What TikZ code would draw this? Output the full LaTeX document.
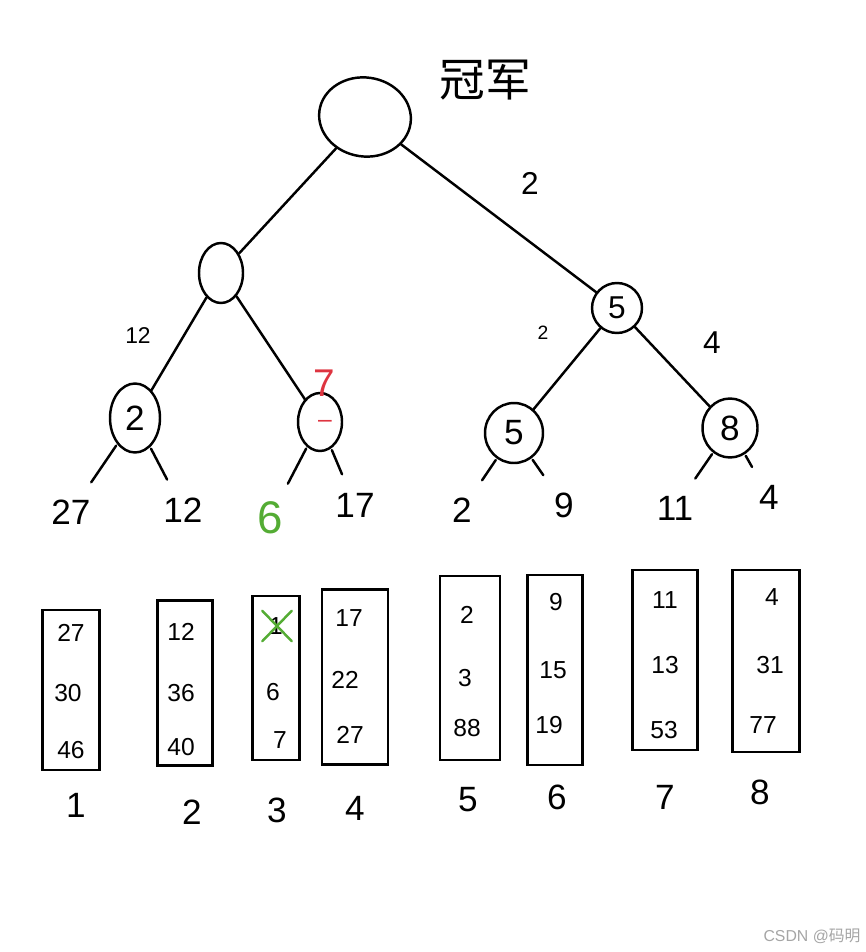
\documentclass[tikz,border=0pt]{standalone}
\usepackage{fontspec}
\setmainfont{Liberation Sans}
\newfontfamily\cjk{Noto Sans CJK SC}
\usetikzlibrary{shapes.geometric,shapes.misc}
\definecolor{markred}{RGB}{222,52,64}
\definecolor{markgreen}{RGB}{84,172,52}
\definecolor{wmgray}{RGB}{165,165,165}
\begin{document}
\begin{tikzpicture}[x=0.02cm, y=-0.02cm, line width=1.4pt, line cap=round]
  \tikzset{knot/.style={draw, ellipse, inner sep=0pt, font=\fontsize{20}{24}\selectfont},
           leaf/.style={font=\fontsize{20}{24}\selectfont},
           stub/.style={shorten <=1pt, shorten >=0.25cm},
           buf/.style={draw, rectangle, inner sep=0pt},
           val/.style={font=\fontsize{14}{16}\selectfont},
           idx/.style={font=\fontsize{20}{24}\selectfont},
           wt/.style={inner sep=0pt}}
  \useasboundingbox (0,0) rectangle (865,952);
  % tree
  \node[font=\cjk\fontsize{26}{30}\selectfont] (title) at (485,80) {冠军};
  \node[knot, minimum width=1.84cm, minimum height=1.58cm, rotate=-8] (root) at (365,117) {};
  \node[knot, minimum width=0.88cm, minimum height=1.2cm] (m1) at (221,273) {};
  \node[knot, minimum width=1.0cm, minimum height=1.0cm, font=\fontsize{18}{22}\selectfont] (m2) at (617,308) {5};
  \node[knot, minimum width=1.0cm, minimum height=1.38cm] (k1) at (135,418) {2};
  \node[knot, minimum width=0.88cm, minimum height=1.16cm] (k2) at (320,422) {};
  \node[knot, minimum width=1.16cm, minimum height=1.2cm] (k3) at (514,433) {5};
  \node[knot, minimum width=1.1cm, minimum height=1.18cm] (k4) at (730,428) {8};
  \node[text=markred, font=\fontsize{22}{26}\selectfont] (mark7) at (324,383) {7};
  \node[text=markred, font=\fontsize{14}{16}\selectfont] (markdash) at (325,424) {–};
  \draw (root) -- (m1);
  \draw (root) -- (m2);
  \draw (m1) -- (k1);
  \draw (m1) -- (k2);
  \draw (m2) -- (k3);
  \draw (m2) -- (k4);
  \node[wt, font=\fontsize{18}{22}\selectfont] (w1) at (530,183) {2};
  \node[wt, font=\fontsize{13}{16}\selectfont] (w2) at (138,336) {12};
  \node[wt, font=\fontsize{11}{14}\selectfont] (w3) at (543,333) {2};
  \node[wt, font=\fontsize{18}{22}\selectfont] (w4) at (712,343) {4};
  % leaves
  \node[leaf] (v1) at (71,512) {27};
  \node[leaf] (v2) at (183,510) {12};
  \node[leaf, text=markgreen, font=\fontsize{26}{30}\selectfont] (v3) at (270,518) {6};
  \node[leaf] (v4) at (355,505) {17};
  \node[leaf] (v5) at (462,510) {2};
  \node[leaf] (v6) at (564,505) {9};
  \node[leaf] (v7) at (675,508) {11};
  \node[leaf] (v8) at (769,497) {4};
  \draw[stub] (k1) -- (v1);
  \draw[stub] (k1) -- (v2);
  \draw[stub] (k2) -- (v3);
  \draw[stub] (k2) -- (v4);
  \draw[stub] (k3) -- (v5);
  \draw[stub] (k3) -- (v6);
  \draw[stub] (k4) -- (v7);
  \draw[stub] (k4) -- (v8);
  % runs
  \node[buf, minimum width=1.14cm, minimum height=3.2cm] (b1) at (71,690) {};
  \node[buf, minimum width=1.1cm, minimum height=3.3cm] (b2) at (185,683) {};
  \node[buf, minimum width=0.94cm, minimum height=3.28cm] (b3) at (276,678) {};
  \node[buf, minimum width=1.32cm, minimum height=3.5cm] (b4) at (355,677) {};
  \node[buf, minimum width=1.2cm, minimum height=3.68cm] (b5) at (470,668) {};
  \node[buf, minimum width=1.1cm, minimum height=3.8cm] (b6) at (555,670) {};
  \node[buf, minimum width=1.3cm, minimum height=3.6cm] (b7) at (665,660) {};
  \node[buf, minimum width=1.34cm, minimum height=3.64cm] (b8) at (766,661) {};
  \node[val] (r1a) at (71,633) {27};
  \node[val] (r1b) at (68,693) {30};
  \node[val] (r1c) at (71,750) {46};
  \node[val] (r2a) at (181,632) {12};
  \node[val] (r2b) at (181,693) {36};
  \node[val] (r2c) at (181,747) {40};
  \node[val] (r3a) at (276,626) {1};
  \node[cross out, draw=markgreen, minimum width=0.54cm, minimum height=0.56cm, inner sep=0pt] (x3a) at (277,626) {};
  \node[val] (r3b) at (273,692) {6};
  \node[val] (r3c) at (280,740) {7};
  \node[val] (r4a) at (349,618) {17};
  \node[val] (r4b) at (345,680) {22};
  \node[val] (r4c) at (350,735) {27};
  \node[val] (r5a) at (467,615) {2};
  \node[val] (r5b) at (465,678) {3};
  \node[val] (r5c) at (467,728) {88};
  \node[val] (r6a) at (556,602) {9};
  \node[val] (r6b) at (553,670) {15};
  \node[val] (r6c) at (549,725) {19};
  \node[val] (r7a) at (665,600) {11};
  \node[val] (r7b) at (665,665) {13};
  \node[val] (r7c) at (664,730) {53};
  \node[val] (r8a) at (772,597) {4};
  \node[val] (r8b) at (770,665) {31};
  \node[val] (r8c) at (763,725) {77};
  \node[idx] (n1) at (76,805) {1};
  \node[idx] (n2) at (192,812) {2};
  \node[idx] (n3) at (277,810) {3};
  \node[idx] (n4) at (355,808) {4};
  \node[idx] (n5) at (468,800) {5};
  \node[idx] (n6) at (557,797) {6};
  \node[idx] (n7) at (665,797) {7};
  \node[idx] (n8) at (760,792) {8};
  \node[text=wmgray, font=\fontsize{9}{11}\selectfont] (wm) at (812,936) {CSDN @{\cjk 码明}};
\end{tikzpicture}
\end{document}
